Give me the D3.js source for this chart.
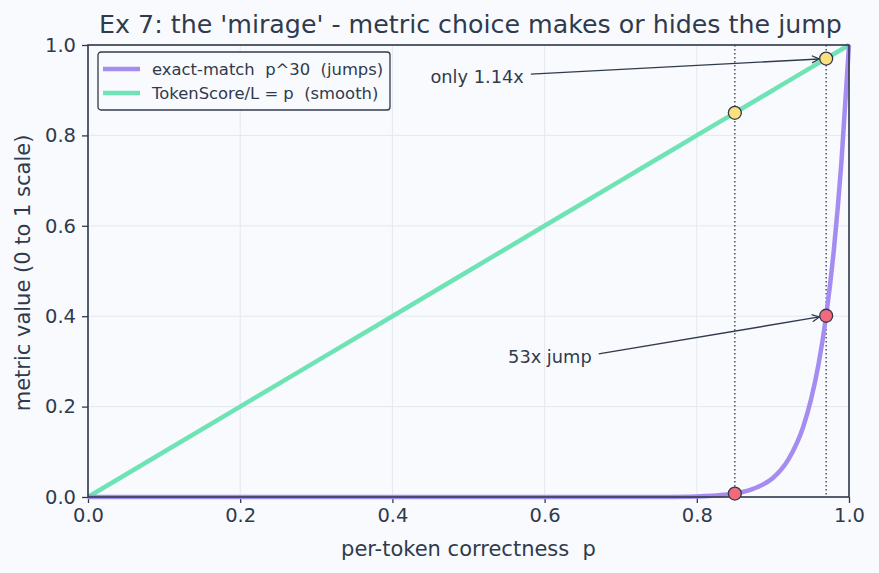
<!DOCTYPE html>
<html>
<head>
<meta charset="utf-8">
<script src="https://cdn.jsdelivr.net/npm/d3@7"></script>
<style>
  body { margin: 0; background: #f9fafd; }
  text { font-family: "DejaVu Sans", sans-serif; white-space: pre; }
</style>
</head>
<body>
<div id="chart"></div>
<script>
// values
var pValues = [0, 0.2, 0.4, 0.6, 0.7, 0.75, 0.8, 0.82, 0.84, 0.86, 0.88, 0.9, 0.92, 0.94, 0.95, 0.96, 0.97, 0.98, 0.99, 1.0];
var exactMatch = [0, 0, 0, 0, 0, 0.0002, 0.0012, 0.0026, 0.0054, 0.011, 0.022, 0.042, 0.082, 0.156, 0.215, 0.294, 0.401, 0.545, 0.740, 1.0];
var tokenScore = [0, 0.2, 0.4, 0.6, 0.7, 0.75, 0.8, 0.82, 0.84, 0.86, 0.88, 0.9, 0.92, 0.94, 0.95, 0.96, 0.97, 0.98, 0.99, 1.0];
var markP = [0.85, 0.97];
var markExact = [0.0076, 0.401];
var markToken = [0.85, 0.97];
var ticks = [0, 0.2, 0.4, 0.6, 0.8, 1.0];

var W = 879, H = 573;
var margin = {left: 88, top: 45, right: 30, bottom: 76};
var width = W - margin.left - margin.right,
	height = H - margin.top - margin.bottom;

var ink = "#303a4d";

var svg = d3.select("#chart").append("svg")
	.attr("width", W)
	.attr("height", H)
	.style("background", "#f9fafd");

var x = d3.scaleLinear().domain([0, 1]).range([0, width]);
var y = d3.scaleLinear().domain([0, 1]).range([height, 0]);

var g = svg.append("g").attr("transform", "translate(" + margin.left + "," + margin.top + ")");

//Grid
g.append("g").selectAll("line.gx").data(ticks).enter().append("line")
	.attr("x1", d => x(d)).attr("x2", d => x(d))
	.attr("y1", 0).attr("y2", height)
	.style("stroke", "#e4e7ec").style("stroke-width", 1);
g.append("g").selectAll("line.gy").data(ticks).enter().append("line")
	.attr("y1", d => y(d)).attr("y2", d => y(d))
	.attr("x1", 0).attr("x2", width)
	.style("stroke", "#e4e7ec").style("stroke-width", 1);

//Axes
var xAxis = g.append("g").attr("transform", "translate(0," + height + ")")
	.call(d3.axisBottom(x).tickValues(ticks).tickFormat(d3.format(".1f")).tickSize(6).tickPadding(5));
var yAxis = g.append("g")
	.call(d3.axisLeft(y).tickValues(ticks).tickFormat(d3.format(".1f")).tickSize(6).tickPadding(6));
[xAxis, yAxis].forEach(function(a) {
	a.select(".domain").remove();
	a.selectAll("line").style("stroke", ink).style("stroke-width", 1.3);
	a.selectAll("text").style("fill", ink).style("font-size", "19.5px").style("font-family", "DejaVu Sans, sans-serif");
});

//Dotted guide lines
g.selectAll("line.guide").data(markP).enter().append("line")
	.attr("x1", d => x(d)).attr("x2", d => x(d))
	.attr("y1", 0).attr("y2", height)
	.style("stroke", ink).style("stroke-width", 1.3)
	.style("stroke-dasharray", "1.5,2.5");

//Curves
var line = d3.line().curve(d3.curveMonotoneX);
g.append("path")
	.attr("d", line(pValues.map((p, i) => [x(p), y(tokenScore[i])])))
	.style("fill", "none").style("stroke", "#6ee3b6").style("stroke-width", 4.5);
g.append("path")
	.attr("d", line(pValues.map((p, i) => [x(p), y(exactMatch[i])])))
	.style("fill", "none").style("stroke", "#a48cf1").style("stroke-width", 4.5);

//Frame
g.append("rect").attr("width", width).attr("height", height)
	.style("fill", "none").style("stroke", ink).style("stroke-width", 1.6);

//Markers
g.selectAll("circle.tok").data(markP).enter().append("circle")
	.attr("cx", d => x(d)).attr("cy", (d, i) => y(markToken[i])).attr("r", 6.5)
	.style("fill", "#fbe07e").style("stroke", ink).style("stroke-width", 1.3);
g.selectAll("circle.ex").data(markP).enter().append("circle")
	.attr("cx", d => x(d)).attr("cy", (d, i) => y(markExact[i])).attr("r", 6.5)
	.style("fill", "#f26b7c").style("stroke", ink).style("stroke-width", 1.3);

//Annotations
svg.append("defs").append("marker")
	.attr("id", "arr").attr("viewBox", "0 0 10 10")
	.attr("refX", 9).attr("refY", 5)
	.attr("markerWidth", 9).attr("markerHeight", 9)
	.attr("markerUnits", "userSpaceOnUse")
	.attr("orient", "auto")
	.append("path").attr("d", "M1,1 L9,5 L1,9")
	.style("fill", "none").style("stroke", ink).style("stroke-width", 1.4);

var notes = [
	{text: "only 1.14x", tx: 0.45, ty: 0.929, px: markP[1], py: markToken[1]},
	{text: "53x jump", tx: 0.552, ty: 0.31, px: markP[1], py: markExact[1]}
];
notes.forEach(function(n) {
	var t = g.append("text")
		.attr("x", x(n.tx)).attr("y", y(n.ty)).attr("dy", ".35em")
		.style("fill", ink).style("font-size", "17.8px")
		.text(n.text);
	var tw = t.node().getComputedTextLength();
	var sx = x(n.tx) + tw + 7, sy = y(n.ty) - 3;
	var ex = x(n.px), ey = y(n.py);
	var dx = ex - sx, dy = ey - sy, len = Math.sqrt(dx*dx + dy*dy);
	g.append("line")
		.attr("x1", sx).attr("y1", sy)
		.attr("x2", ex - dx/len*7).attr("y2", ey - dy/len*7)
		.style("stroke", ink).style("stroke-width", 1.4)
		.attr("marker-end", "url(#arr)");
});

//Legend
var legend = g.append("g").attr("transform", "translate(10,7)");
legend.append("rect").attr("width", 292).attr("height", 58).attr("rx", 3)
	.style("fill", "#f9fafd").style("stroke", ink).style("stroke-width", 1.3);
var legItems = [
	{label: "exact-match  p^30  (jumps)", color: "#a48cf1"},
	{label: "TokenScore/L = p  (smooth)", color: "#6ee3b6"}
];
legItems.forEach(function(d, i) {
	legend.append("line")
		.attr("x1", 5).attr("x2", 42).attr("y1", 17 + i*24).attr("y2", 17 + i*24)
		.style("stroke", d.color).style("stroke-width", 4.5);
	legend.append("text")
		.attr("x", 54).attr("y", 17 + i*24).attr("dy", ".35em")
		.style("fill", ink).style("font-size", "16.4px")
		.text(d.label);
});

//Titles
svg.append("text")
	.attr("x", margin.left + width/2 + 2).attr("y", 33)
	.style("text-anchor", "middle").style("fill", ink).style("font-size", "25.3px")
	.text("Ex 7: the 'mirage' - metric choice makes or hides the jump");
svg.append("text")
	.attr("x", margin.left + width/2).attr("y", 556)
	.style("text-anchor", "middle").style("fill", ink).style("font-size", "21px")
	.text("per-token correctness  p");
svg.append("text")
	.attr("transform", "translate(30," + (margin.top + height/2 + 2) + ") rotate(-90)")
	.style("text-anchor", "middle").style("fill", ink).style("font-size", "21px")
	.text("metric value (0 to 1 scale)");
</script>
</body>
</html>
